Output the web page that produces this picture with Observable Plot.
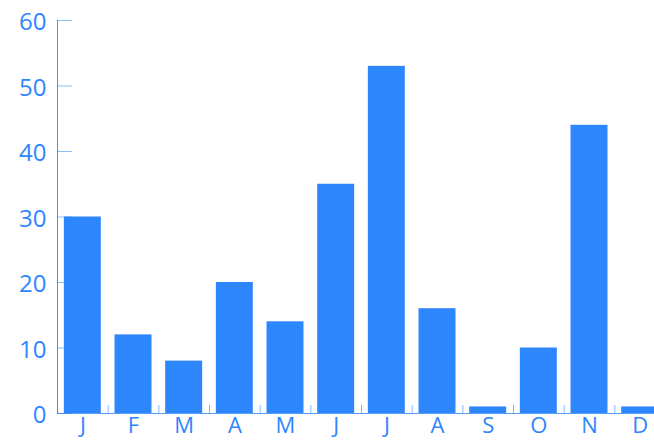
<!DOCTYPE html>
<html><head><meta charset="utf-8">
<script src="https://cdn.jsdelivr.net/npm/d3@7"></script>
<script src="https://cdn.jsdelivr.net/npm/@observablehq/plot@0.6"></script>
<style>html,body{margin:0;padding:0;background:#fff;overflow:hidden}</style>
</head><body><div id="chart"></div>
<script>
const months = ["J","F","M","A","M","J","J","A","S","O","N","D"];
const values = [30,12,8,20,14,35,53,16,1,10,44,1];
const yTicks = [0,10,20,30,40,50,60];
const data = months.map((m,i)=>({i, m, v: values[i]}));
const keys = d3.range(months.length);
const blue = "#2e86fc";
const W = 654, H = 442, left = 57, right = 665;
const step = (right - left) / months.length;
const chart = Plot.plot({
  width: W, height: H, marginTop: 20, marginBottom: 29, marginLeft: left, marginRight: 0,
  style: {fontFamily: "'Open Sans', sans-serif", color: blue, background: "white"},
  x: {domain: keys, range: [left, right], paddingInner: 0.27, paddingOuter: 0.135, align: 0.5, round: false, label: null},
  y: {domain: [0, 60], label: null},
  marks: [
    Plot.barY(data, {x: "i", y: "v", fill: blue}),
    Plot.axisY(yTicks, {tickSize: 15, dx: 15, fill: "none", stroke: blue, strokeOpacity: 0.55, label: null}),
    Plot.axisY(yTicks, {tickSize: 0, tickPadding: 11, dy: 2, fontSize: 24, fill: blue, label: null}),
    Plot.axisX(keys, {tickSize: 8, dy: -8, dx: -step / 2, fill: "none", stroke: blue, strokeOpacity: 0.6, label: null}),
    Plot.axisX(keys, {tickSize: 0, tickPadding: 4, tickFormat: i => months[i], fontSize: 22, fill: blue, label: null}),
    Plot.frame({anchor: "left", stroke: blue, strokeOpacity: 0.9}),
    Plot.ruleY([0], {stroke: blue, strokeOpacity: 0.8})
  ]
});
document.getElementById("chart").append(chart);
</script></body></html>
